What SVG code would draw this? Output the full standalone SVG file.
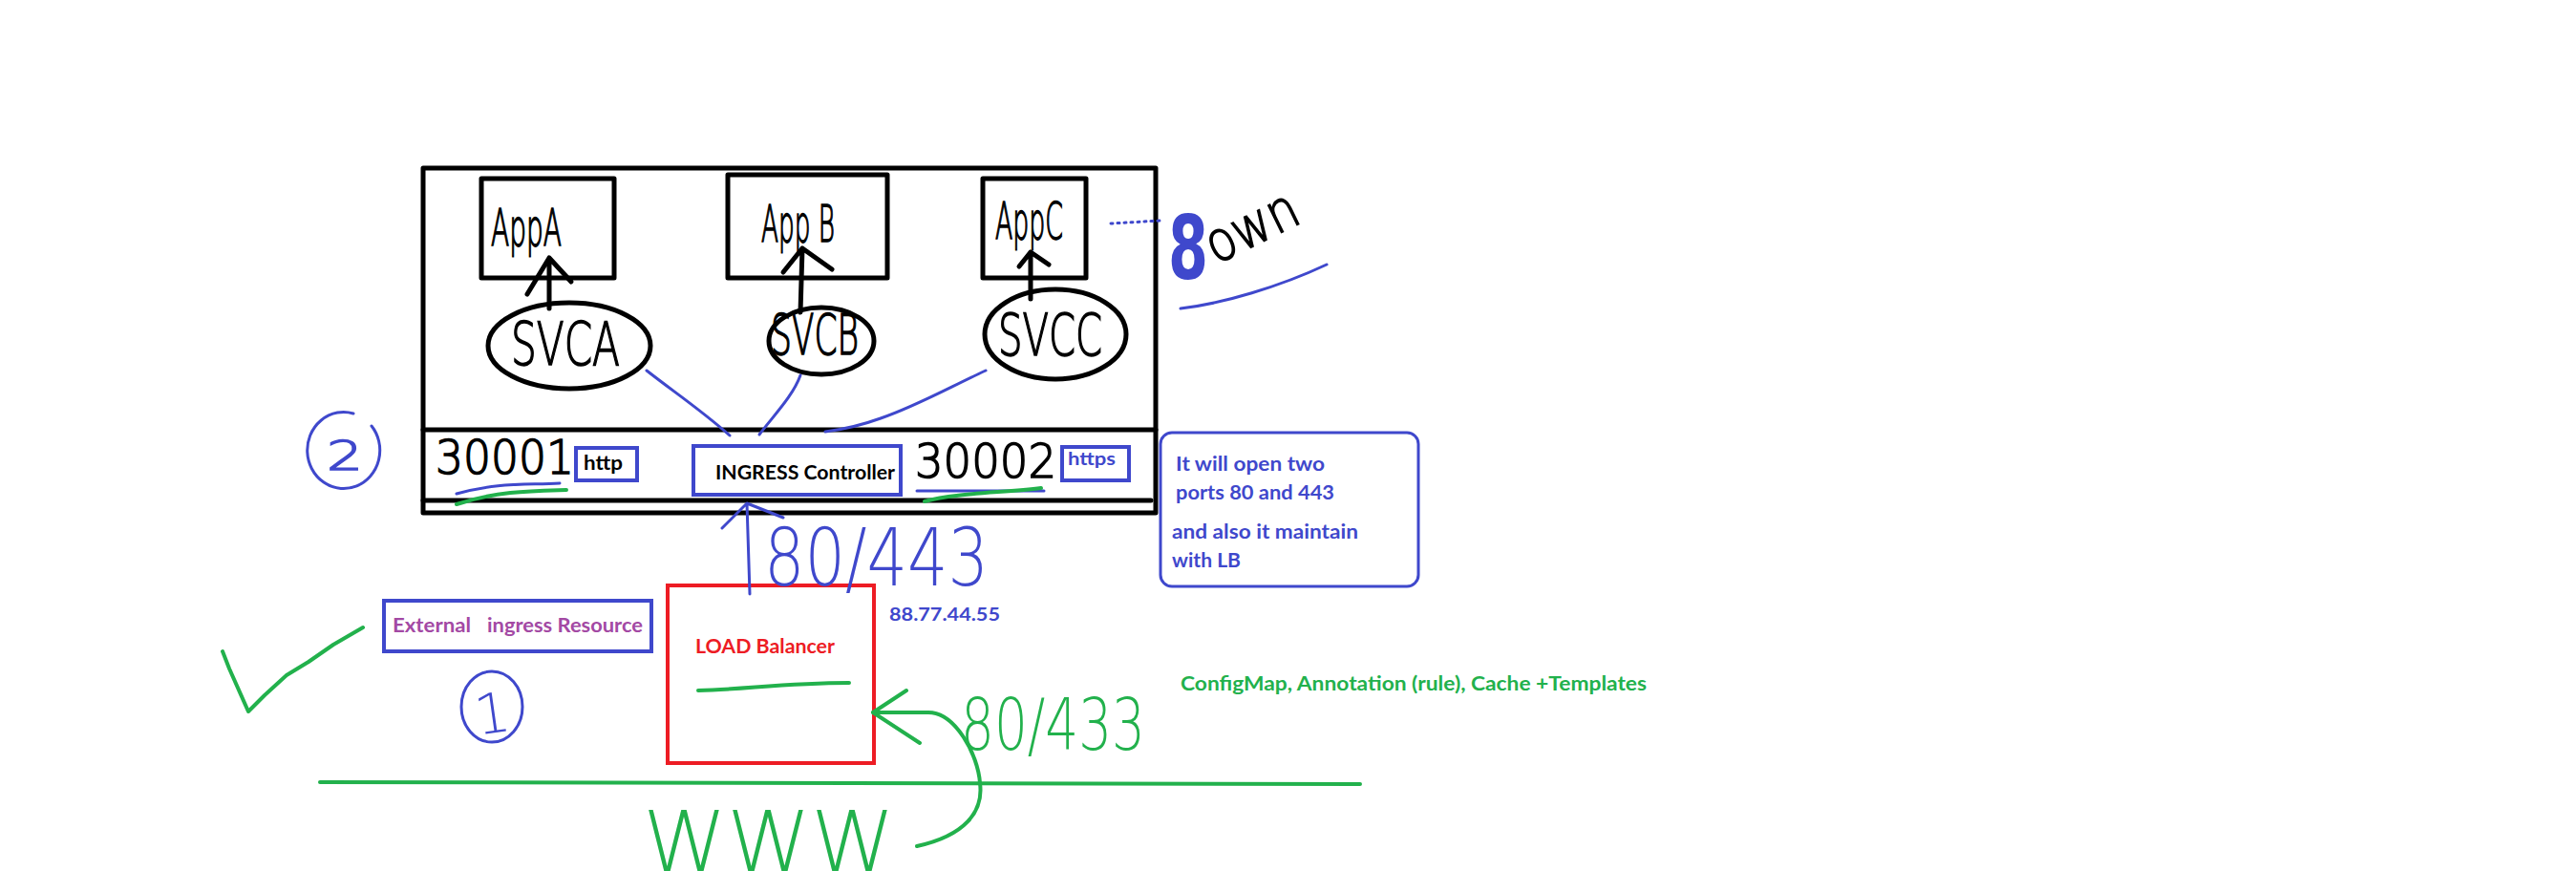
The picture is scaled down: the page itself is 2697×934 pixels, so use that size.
<svg xmlns="http://www.w3.org/2000/svg" width="2697" height="934" viewBox="0 0 2697 934">
<style>
.blk{fill:none;stroke:#000;stroke-width:5;stroke-linecap:round;stroke-linejoin:round}
.bln{fill:none;stroke:#3F48CC;stroke-width:3;stroke-linecap:round;stroke-linejoin:round}
.grn{fill:none;stroke:#22B14C;stroke-width:4;stroke-linecap:round;stroke-linejoin:round}
.hand{font-family:"DejaVu Sans","Liberation Sans",sans-serif;font-weight:200}
.ink{stroke:#000;stroke-width:1.6}
.typed{font-family:Lato,"Liberation Sans",sans-serif;font-weight:bold}
</style>
<rect width="2697" height="934" fill="#fff"/>

<g id="cluster">
  <rect x="443" y="176" width="767" height="361" class="blk"/>
  <line x1="443" y1="450" x2="1210" y2="450" class="blk"/>
  <line x1="443" y1="524" x2="1205" y2="524" class="blk"/>
</g>

<g id="appA">
  <rect x="504" y="187" width="139" height="104" class="blk"/>
  <text x="514" y="257" font-size="54" class="hand ink" textLength="74" lengthAdjust="spacingAndGlyphs">AppA</text>
</g>
<g id="appB">
  <rect x="762" y="183" width="167" height="108" class="blk"/>
  <text x="797" y="253" font-size="54" class="hand ink" textLength="77" lengthAdjust="spacingAndGlyphs">App B</text>
</g>
<g id="appC">
  <rect x="1029" y="187" width="108" height="104" class="blk"/>
  <text x="1042" y="250" font-size="54" class="hand ink" textLength="71" lengthAdjust="spacingAndGlyphs">AppC</text>
</g>

<g id="svcA">
  <ellipse cx="596" cy="362" rx="85" ry="45" class="blk" stroke-width="4"/>
  <text x="535" y="382" font-size="62" class="hand ink" textLength="114" lengthAdjust="spacingAndGlyphs">SVCA</text>
</g>
<g id="svcB">
  <ellipse cx="860" cy="357" rx="55" ry="35" class="blk" stroke-width="4"/>
  <text x="807" y="371" font-size="58" class="hand ink" textLength="92" lengthAdjust="spacingAndGlyphs">SVCB</text>
</g>
<g id="svcC">
  <ellipse cx="1105" cy="350" rx="74" ry="47" class="blk" stroke-width="4"/>
  <text x="1045" y="372" font-size="60" class="hand ink" textLength="109" lengthAdjust="spacingAndGlyphs">SVCC</text>
</g>

<g id="own">
  <text x="1223" y="292" font-size="92" font-weight="bold" fill="#3F48CC" font-family="'DejaVu Sans',sans-serif" textLength="42" lengthAdjust="spacingAndGlyphs">8</text>
  <text x="1273" y="277" font-size="58" class="hand ink" transform="rotate(-26 1273 277)" textLength="102" lengthAdjust="spacingAndGlyphs">own</text>
  <path d="M1236 323 C1280 318 1340 300 1389 277" class="bln" stroke-width="4"/>
</g>

<g id="port30001">
  <text x="456" y="496" font-size="50" class="hand ink" textLength="145" lengthAdjust="spacingAndGlyphs">30001</text>
  <path d="M478 517 C520 505 550 508 586 506" class="bln"/>
  <path d="M478 528 C520 514 560 514 593 513" class="grn"/>
</g>
<g id="http">
  <rect x="603" y="469" width="64" height="34" fill="none" stroke="#3F48CC" stroke-width="4"/>
  <text x="611" y="492" font-size="20" class="typed" fill="#000" textLength="41" lengthAdjust="spacingAndGlyphs">http</text>
</g>
<g id="ingress">
  <rect x="726" y="467" width="217" height="51" fill="none" stroke="#3F48CC" stroke-width="4"/>
  <text x="749" y="502" font-size="21" class="typed" fill="#000" textLength="188" lengthAdjust="spacingAndGlyphs">INGRESS Controller</text>
</g>
<g id="port30002">
  <text x="958" y="500" font-size="50" class="hand ink" textLength="148" lengthAdjust="spacingAndGlyphs">30002</text>
  <path d="M960 514 L1093 514" class="bln"/>
  <path d="M968 525 C1000 516 1050 516 1090 511" class="grn"/>
</g>
<g id="https">
  <rect x="1112" y="468" width="70" height="35" fill="none" stroke="#3F48CC" stroke-width="4"/>
  <text x="1118" y="487" font-size="19" class="typed" fill="#3F48CC" textLength="50" lengthAdjust="spacingAndGlyphs">https</text>
</g>

<g id="step2">
  <path d="M389 446 A38 40 0 1 1 370 433" class="bln" stroke-width="4"/>
  <text x="342" y="492" font-size="42" class="hand" fill="#3F48CC" stroke="#3F48CC" stroke-width="1.4" textLength="38" lengthAdjust="spacingAndGlyphs">2</text>
</g>

<g id="note">
  <rect x="1215" y="453" width="270" height="161" rx="12" class="bln" stroke-width="4"/>
  <g class="typed" fill="#3F48CC" font-size="21">
    <text x="1231" y="493" textLength="156" lengthAdjust="spacingAndGlyphs">It will open two</text>
    <text x="1231" y="523" textLength="166" lengthAdjust="spacingAndGlyphs">ports 80 and 443</text>
    <text x="1227" y="564" textLength="195" lengthAdjust="spacingAndGlyphs">and also it maintain</text>
    <text x="1227" y="594" textLength="72" lengthAdjust="spacingAndGlyphs">with LB</text>
  </g>
</g>

<g id="externalIngress">
  <rect x="402" y="629" width="280" height="53" fill="none" stroke="#3F48CC" stroke-width="4"/>
  <text font-size="20" class="typed" fill="#A349A4" y="662"><tspan x="411" textLength="82" lengthAdjust="spacingAndGlyphs">External</tspan><tspan x="510" textLength="163" lengthAdjust="spacingAndGlyphs">ingress Resource</tspan></text>
</g>

<g id="check">
  <polyline points="233,682 240,700 260,745 277,728 300,707 323,693 349,675 380,657" class="grn" stroke-width="3"/>
</g>

<g id="step1">
  <ellipse cx="515" cy="740" rx="32" ry="37" class="bln" stroke-width="3"/>
  <text x="496" y="768" font-size="58" class="hand" fill="#3F48CC" transform="rotate(-8 510 740)">1</text>
</g>

<g id="loadBalancer">
  <rect x="699" y="613" width="216" height="186" fill="none" stroke="#ED1C24" stroke-width="4"/>
  <text x="728" y="684" font-size="21" class="typed" fill="#ED1C24" textLength="146" lengthAdjust="spacingAndGlyphs">LOAD Balancer</text>
  <path d="M731 723 C780 722 820 715 889 715" class="grn"/>
</g>

<g id="ip">
  <text x="931" y="650" font-size="19" class="typed" fill="#3F48CC" textLength="116" lengthAdjust="spacingAndGlyphs">88.77.44.55</text>
</g>

<g id="config">
  <text x="1236" y="723" font-size="20" class="typed" fill="#22B14C" textLength="488" lengthAdjust="spacingAndGlyphs">ConfigMap, Annotation (rule),  Cache +Templates</text>
</g>

<g id="www">
  <line x1="335" y1="819" x2="1424" y2="821" class="grn" stroke-width="4"/>
  <text x="673" y="912" font-size="88" class="hand" fill="#22B14C" textLength="264" lengthAdjust="spacingAndGlyphs">WWW</text>
</g>

<g id="connectors">
  <path d="M575 323 L575 270 M552 308 L575 270 L598 295" class="blk" stroke-width="3"/>
  <path d="M838 327 L840 260 M820 285 L840 260 L871 282" class="blk" stroke-width="3"/>
  <path d="M1079 313 L1079 264 M1067 279 L1079 264 L1098 277" class="blk" stroke-width="3"/>
  <path d="M677 388 C705 410 735 430 764 456" class="bln"/>
  <path d="M838 393 C830 415 810 435 795 455" class="bln"/>
  <path d="M1032 388 C995 405 960 425 922 438 C900 446 880 450 864 452" class="bln"/>
  <path d="M1163 234 L1215 231" class="bln" stroke-width="3" stroke-dasharray="2 5"/>
  <path d="M785 622 L782 527 M756 553 L782 527 L820 542" class="bln"/>
  <text x="800" y="613" font-size="84" class="hand" fill="#3F48CC" textLength="235" lengthAdjust="spacingAndGlyphs">80/443</text>
  <path d="M914 746 L972 746 C1000 746 1024 790 1026 820 C1030 850 1010 875 960 886" class="grn" stroke-width="3"/>
  <path d="M949 723 L914 746 L963 778" class="grn" stroke-width="3"/>
  <text x="1006" y="785" font-size="74" class="hand" fill="#22B14C" textLength="193" lengthAdjust="spacingAndGlyphs">80/433</text>
</g>
</svg>
